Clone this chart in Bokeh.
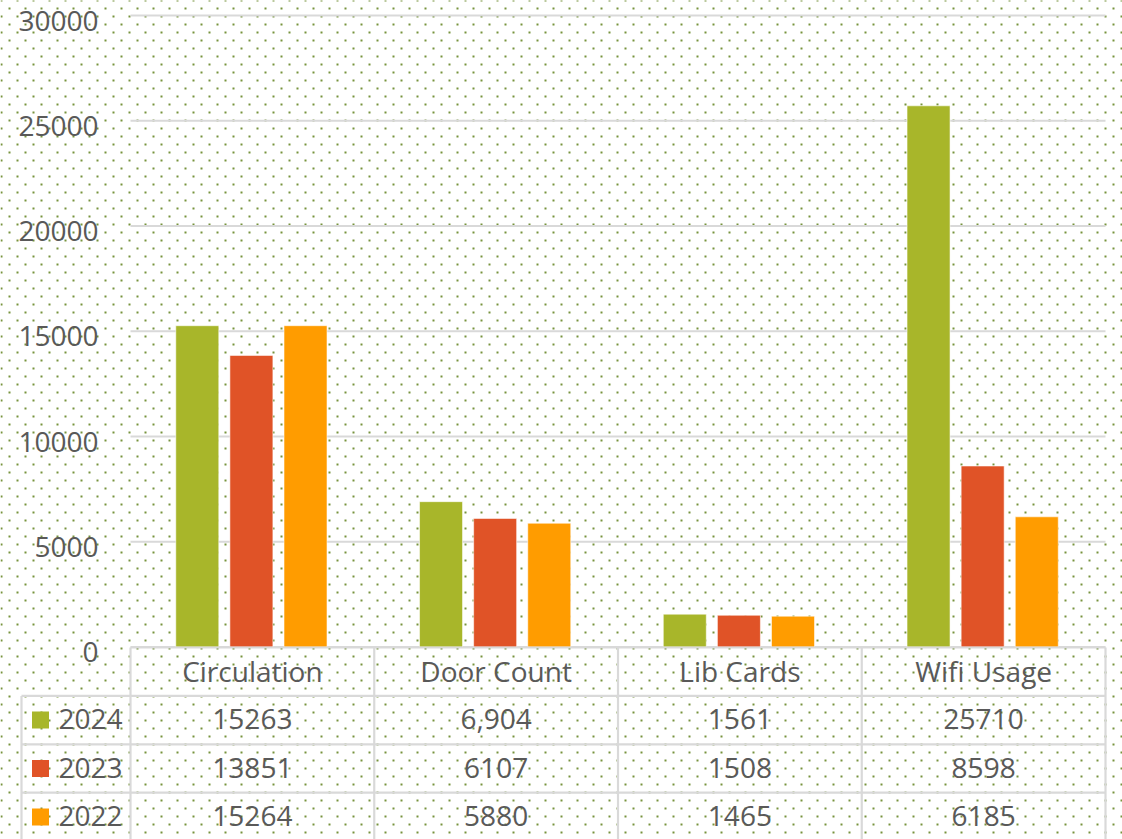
import numpy as np
from bokeh.plotting import figure
from bokeh.models import Range1d
from bokeh.core.properties import value
from bokeh.embed import file_html
from bokeh.resources import INLINE

# ---------------- data ----------------
categories = ["Circulation", "Door Count", "Lib Cards", "Wifi Usage"]
years = ["2024", "2023", "2022"]
values_2024 = [15263, 6904, 1561, 25710]
values_2023 = [13851, 6107, 1508, 8598]
values_2022 = [15264, 5880, 1465, 6185]
labels_2024 = ["15263", "6,904", "1561", "25710"]
labels_2023 = ["13851", "6107", "1508", "8598"]
labels_2022 = ["15264", "5880", "1465", "6185"]
y_ticks = [0, 5000, 10000, 15000, 20000, 25000, 30000]
y_tick_labels = ["0", "5000", "10000", "15000", "20000", "25000", "30000"]

series_values = [values_2024, values_2023, values_2022]
series_labels = [labels_2024, labels_2023, labels_2022]
colors = ["#A8B62A", "#E05327", "#FF9C00"]

# ---------------- layout (page pixels) ----------------
W, H = 1122, 839
COL_LEFT, COL_W = 130.0, 243.75
ZERO_PX = 646.5
PX_PER_VAL = 21.05 / 1000.0

x_start = (0 - COL_LEFT) / COL_W
x_end = (W - COL_LEFT) / COL_W
y_end = ZERO_PX / PX_PER_VAL
y_start = -(H - ZERO_PX) / PX_PER_VAL

TEXT = "#595959"
LINE = "#D9D9D9"
FONT = value("Open Sans")
FS = "28px"

p = figure(width=W, height=H, x_range=Range1d(x_start, x_end),
           y_range=Range1d(y_start, y_end), x_axis_type=None, y_axis_type=None,
           output_backend="svg", toolbar_location=None, min_border=0)
p.grid.visible = False
p.outline_line_color = None
p.background_fill_color = "white"
p.border_fill_color = "white"
p.extra_y_ranges = {"px": Range1d(H, 0)}
p.extra_x_ranges = {"px": Range1d(0, W)}

# dotted background (decorative texture, staggered 16px tile)
gx = np.arange(0, W + 16, 16)
gy = np.arange(0, H + 16, 16)
ax, ay = np.meshgrid(gx + 1, gy)
bx, by = np.meshgrid(gx + 9, gy + 8)
dot_x = np.concatenate([ax.ravel(), bx.ravel()])
dot_y = np.concatenate([ay.ravel(), by.ravel()])
p.scatter(x=dot_x, y=dot_y, marker="square", size=2, fill_color="#77933C",
          line_color=None, x_range_name="px", y_range_name="px")

ncat = len(categories)
# gridlines
p.segment(x0=[0] * len(y_ticks), x1=[ncat] * len(y_ticks), y0=y_ticks, y1=y_ticks,
          line_color=LINE, line_width=2)

# y tick labels
label_x = (98 - COL_LEFT) / COL_W
p.text(x=[label_x] * len(y_ticks), y=y_ticks, text=y_tick_labels,
       text_font=FONT, text_font_size=FS, text_color=TEXT,
       text_align="right", text_baseline="middle", y_offset=5)

# bars
offsets = [-0.226, -0.004, 0.218]
bar_w = 43 / COL_W
centers = np.arange(ncat) + 0.5
for vals, col, off in zip(series_values, colors, offsets):
    p.vbar(x=centers + off, top=vals, bottom=0, width=bar_w,
           fill_color=col, line_color="white", line_alpha=0.55, line_width=1)

# ---------------- data table ----------------
ROW_H = 48.4
TOP = 647.0
row_tops = [TOP + ROW_H * i for i in range(len(years) + 1)]
label_left = (21 - COL_LEFT) / COL_W
bottom_px = H

p.segment(x0=[0], x1=[ncat], y0=[row_tops[0]], y1=[row_tops[0]],
          line_color=LINE, line_width=2.2, y_range_name="px")
p.segment(x0=[label_left] * len(years), x1=[ncat] * len(years),
          y0=row_tops[1:], y1=row_tops[1:],
          line_color=LINE, line_width=2.2, y_range_name="px")
xs = list(range(ncat + 1))
p.segment(x0=xs, x1=xs, y0=[row_tops[0]] * len(xs), y1=[bottom_px] * len(xs),
          line_color=LINE, line_width=2.2, y_range_name="px")
p.segment(x0=[label_left], x1=[label_left], y0=[row_tops[1]], y1=[bottom_px],
          line_color=LINE, line_width=2.2, y_range_name="px")

MID = ROW_H / 2 - 1
p.text(x=centers, y=[row_tops[0] + MID] * ncat, text=categories,
       text_font=FONT, text_font_size=FS, text_color=TEXT,
       text_align="center", text_baseline="middle", y_range_name="px")

key_x = (40 - COL_LEFT) / COL_W
year_x = (58 - COL_LEFT) / COL_W
for i, (yr, col, labs) in enumerate(zip(years, colors, series_labels)):
    rt = row_tops[i + 1]
    p.scatter(x=[key_x], y=[rt + ROW_H / 2], marker="square", size=17,
              fill_color=col, line_color=None, y_range_name="px")
    p.text(x=[year_x], y=[rt + MID], text=[yr], text_font=FONT,
           text_font_size=FS, text_color=TEXT, text_align="left",
           text_baseline="middle", y_range_name="px")
    p.text(x=centers, y=[rt + MID] * ncat, text=labs, text_font=FONT,
           text_font_size=FS, text_color=TEXT, text_align="center",
           text_baseline="middle", y_range_name="px")

open("out.html", "w").write(file_html(p, INLINE))
